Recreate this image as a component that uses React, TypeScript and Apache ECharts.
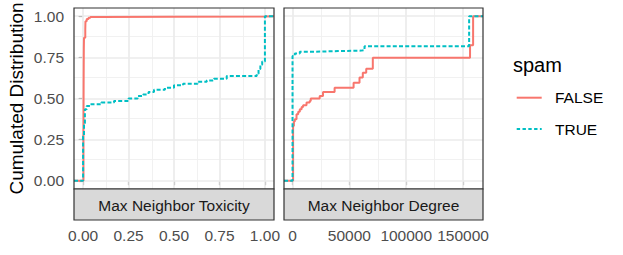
import React, { useEffect, useRef } from "react";
import * as echarts from "echarts";

// ---- data (ECDF step points: [x, cumulative share]) ----
const panelTitles = ["Max Neighbor Toxicity", "Max Neighbor Degree"];
const legendTitle = "spam";
const groups = ["FALSE", "TRUE"];

const toxFalse: [number, number][] = [
  [-0.05, 0], [0.002, 0.25], [0.003, 0.6], [0.004, 0.8], [0.005, 0.869],
  [0.012, 0.92], [0.013, 0.97], [0.02, 0.983], [0.03, 0.99], [0.04, 0.995],
  [0.1, 0.997], [0.5, 0.999], [1.0, 1.0], [1.05, 1.0],
];
const toxTrue: [number, number][] = [
  [-0.05, 0], [0, 0.27], [0.005, 0.35], [0.01, 0.435], [0.02, 0.455],
  [0.04, 0.465], [0.1, 0.475], [0.17, 0.485], [0.25, 0.5], [0.3, 0.515],
  [0.33, 0.525], [0.36, 0.54], [0.39, 0.553], [0.45, 0.565], [0.5, 0.58],
  [0.55, 0.59], [0.63, 0.602], [0.68, 0.61], [0.72, 0.62], [0.79, 0.636],
  [0.955, 0.65], [0.965, 0.68], [0.975, 0.705], [0.985, 0.725], [1.0, 1.0],
  [1.05, 1.0],
];
const degFalse: [number, number][] = [
  [-7500, 0], [500, 0.333], [1200, 0.36], [2000, 0.374], [3500, 0.404],
  [5000, 0.42], [6400, 0.435], [8000, 0.448], [9300, 0.459], [12300, 0.475],
  [15100, 0.485], [16000, 0.5], [23900, 0.515], [26800, 0.539], [37000, 0.566],
  [53700, 0.596], [58900, 0.627], [61800, 0.657], [64800, 0.681],
  [70600, 0.748], [156100, 0.824], [158800, 1.0], [167500, 1.0],
];
const degTrue: [number, number][] = [
  [-7500, 0], [0, 0.758], [2000, 0.774], [6400, 0.784], [18000, 0.788],
  [40000, 0.791], [60400, 0.794], [63300, 0.818], [155300, 1.0], [167500, 1.0],
];

// ---- axis ticks ----
const yTicks = [0, 0.25, 0.5, 0.75, 1];
const yMinor = [0.125, 0.375, 0.625, 0.875];
const toxTicks = [0, 0.25, 0.5, 0.75, 1];
const toxMinor = [0.125, 0.375, 0.625, 0.875];
const degTicks = [0, 50000, 100000, 150000];
const degMinor = [25000, 75000, 125000];

const FONT = "'Liberation Sans', Arial, Helvetica, sans-serif";
const COL_FALSE = "#F8766D";
const COL_TRUE = "#00BFC4";
const DASH = [4, 2.2];

const panels = [
  { left: 74, top: 8, width: 200, height: 181 },
  { left: 284, top: 8, width: 199, height: 181 },
];
const STRIP_H = 31;

function gridLines(xMaj: number[], xMin: number[], yMaj: number[], yMin: number[]) {
  const maj = { color: "#EBEBEB", width: 1.7, type: "solid" as const };
  const min = { color: "#EFEFEF", width: 0.9, type: "solid" as const };
  return [
    ...yMin.map((v) => ({ yAxis: v, lineStyle: min })),
    ...xMin.map((v) => ({ xAxis: v, lineStyle: min })),
    ...yMaj.map((v) => ({ yAxis: v, lineStyle: maj })),
    ...xMaj.map((v) => ({ xAxis: v, lineStyle: maj })),
  ];
}

export default function App() {
  const ref = useRef<HTMLDivElement>(null);
  useEffect(() => {
    if (!ref.current) return;
    const chart = echarts.init(ref.current, undefined, { renderer: "svg" });
    const tickStyle = { show: true, length: 4.5, lineStyle: { color: "#333333", width: 1.1 } };
    const labelStyle = { color: "#4D4D4D", fontSize: 15.5, fontFamily: FONT };
    const xRanges = [
      { min: -0.05, max: 1.05, interval: 0.05, ticks: toxTicks, fmt: (v: number) => v.toFixed(2) },
      { min: -7500, max: 167500, interval: 2500, ticks: degTicks, fmt: (v: number) => String(v) },
    ];
    const legendRows = [
      { y: 97.7, color: COL_FALSE, dash: null as number[] | null },
      { y: 129, color: COL_TRUE, dash: [3.4, 2.4] },
    ];
    const option: any = {
      animation: false,
      backgroundColor: "#FFFFFF",
      textStyle: { fontFamily: FONT },
      grid: panels.map((p) => ({
        ...p, show: true, backgroundColor: "#FFFFFF", borderWidth: 0,
        containLabel: false, outerBoundsMode: "none",
      })),
      xAxis: xRanges.map((r, i) => ({
        type: "value",
        gridIndex: i,
        min: r.min,
        max: r.max,
        interval: r.interval,
        offset: STRIP_H,
        axisLine: { show: false },
        axisTick: { ...tickStyle, customValues: r.ticks },
        axisLabel: { ...labelStyle, margin: 7, customValues: r.ticks, formatter: r.fmt },
        splitLine: { show: false },
      })),
      yAxis: panels.map((_, i) => ({
        type: "value",
        gridIndex: i,
        min: -0.05,
        max: 1.05,
        interval: 0.05,
        axisLine: { show: false },
        axisTick: i === 0 ? { ...tickStyle, customValues: yTicks } : { show: false },
        axisLabel: i === 0
          ? { ...labelStyle, margin: 10, customValues: yTicks, formatter: (v: number) => v.toFixed(2) }
          : { show: false },
        splitLine: { show: false },
        name: i === 0 ? "Cumulated Distribution" : "",
        nameLocation: "middle",
        nameRotate: 90,
        nameGap: 48,
        nameTextStyle: { color: "#000000", fontSize: 19, fontFamily: FONT },
      })),
      series: [
        {
          type: "line", xAxisIndex: 0, yAxisIndex: 0, data: [], z: 1, silent: true,
          markLine: { z: 1, silent: true, symbol: ["none", "none"], label: { show: false }, animation: false,
            emphasis: { disabled: true }, data: gridLines(toxTicks, toxMinor, yTicks, yMinor) },
        },
        {
          type: "line", xAxisIndex: 1, yAxisIndex: 1, data: [], z: 1, silent: true,
          markLine: { z: 1, silent: true, symbol: ["none", "none"], label: { show: false }, animation: false,
            emphasis: { disabled: true }, data: gridLines(degTicks, degMinor, yTicks, yMinor) },
        },
        ...[
          { name: groups[0], data: toxFalse, g: 0, color: COL_FALSE, dash: "solid" },
          { name: groups[1], data: toxTrue, g: 0, color: COL_TRUE, dash: DASH },
          { name: groups[0], data: degFalse, g: 1, color: COL_FALSE, dash: "solid" },
          { name: groups[1], data: degTrue, g: 1, color: COL_TRUE, dash: DASH },
        ].map((s) => ({
          type: "line",
          name: s.name,
          xAxisIndex: s.g,
          yAxisIndex: s.g,
          data: s.data,
          step: "end",
          symbol: "none",
          showSymbol: false,
          z: 10,
          itemStyle: { color: s.color },
          lineStyle: { color: s.color, width: 2, type: s.dash },
          emphasis: { disabled: true },
        })),
      ],
      graphic: [
        ...panels.map((p) => ({
          type: "rect",
          z: 50,
          silent: true,
          shape: { x: p.left, y: p.top, width: p.width, height: p.height },
          style: { fill: "none", stroke: "#333333", lineWidth: 1.2 },
        })),
        ...panels.map((p) => ({
          type: "rect",
          z: 50,
          silent: true,
          shape: { x: p.left, y: p.top + p.height, width: p.width, height: STRIP_H },
          style: { fill: "#D9D9D9", stroke: "#333333", lineWidth: 1.2 },
        })),
        ...panels.map((p, i) => ({
          type: "text",
          z: 51,
          silent: true,
          x: p.left + p.width / 2,
          y: p.top + p.height + STRIP_H / 2 + 1,
          style: {
            text: panelTitles[i], fill: "#1A1A1A", fontSize: 15.5, fontFamily: FONT,
            align: "center", verticalAlign: "middle",
          },
        })),
        {
          type: "text",
          z: 51,
          silent: true,
          x: 513,
          y: 65,
          style: { text: legendTitle, fill: "#000000", fontSize: 20, fontFamily: FONT, verticalAlign: "middle" },
        },
        ...legendRows.map((r) => ({
          type: "line",
          z: 51,
          silent: true,
          shape: { x1: 516.7, y1: r.y, x2: 541.7, y2: r.y },
          style: { stroke: r.color, lineWidth: 2, lineDash: r.dash || undefined },
        })),
        ...legendRows.map((r, i) => ({
          type: "text",
          z: 51,
          silent: true,
          x: 555,
          y: r.y,
          style: { text: groups[i], fill: "#000000", fontSize: 15.5, fontFamily: FONT, verticalAlign: "middle" },
        })),
      ],
    };
    chart.setOption(option);
    return () => chart.dispose();
  }, []);
  return (
    <div
      ref={ref}
      style={{ position: "fixed", left: 0, top: 0, width: 623, height: 255 }}
    />
  );
}
